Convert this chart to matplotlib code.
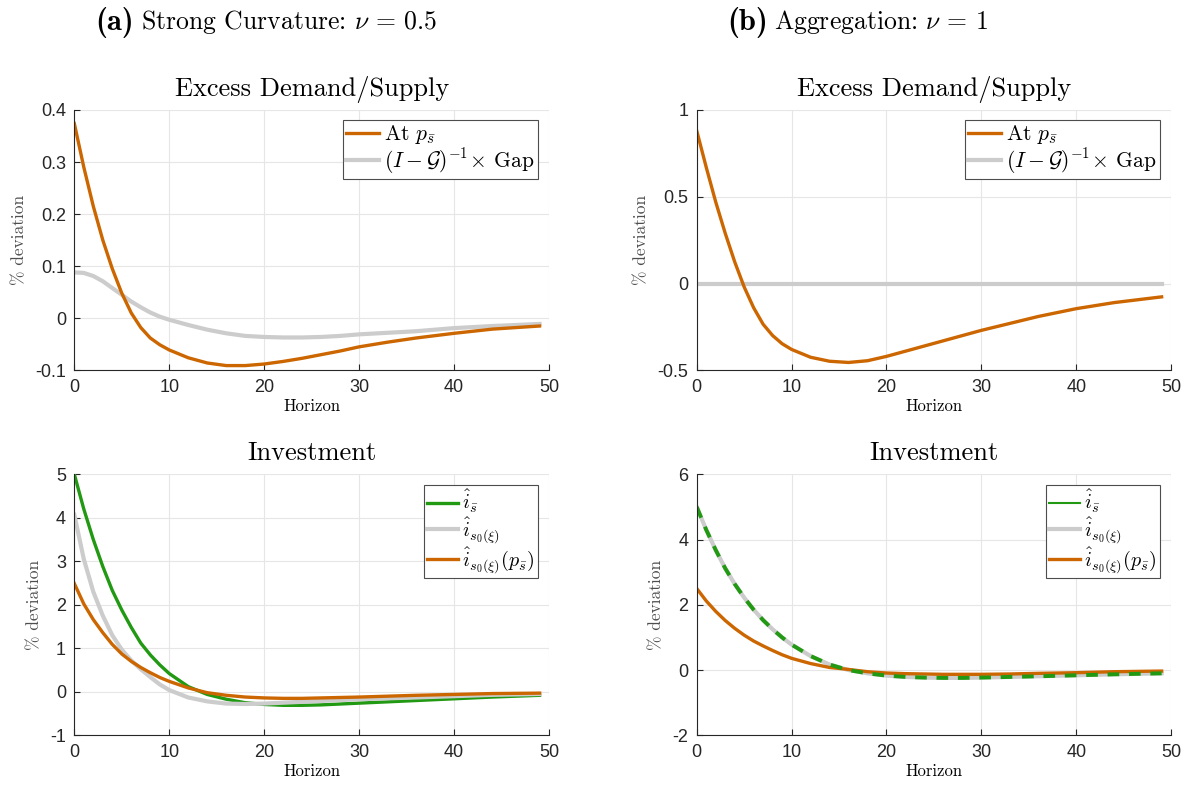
import numpy as np
import matplotlib
matplotlib.use("Agg")
import matplotlib.pyplot as plt
from matplotlib.lines import Line2D
from matplotlib.ticker import FuncFormatter

plt.rcParams['mathtext.fontset'] = 'cm'
plt.rcParams['axes.unicode_minus'] = False
plt.rcParams['font.family'] = ['Liberation Sans', 'DejaVu Sans']

# horizon grid used for the read-off values
horizon = [0, 1, 2, 3, 4, 5, 6, 7, 8, 9, 10, 12, 14, 16, 18, 20, 22, 24, 26, 28,
           30, 33, 36, 40, 44, 49]

# (a) nu = 0.5, excess demand/supply
ed_a_at_p = [0.374, 0.29, 0.215, 0.15, 0.095, 0.048, 0.01, -0.018, -0.038, -0.051,
             -0.061, -0.076, -0.086, -0.091, -0.091, -0.088, -0.083, -0.077, -0.070, -0.063,
             -0.055, -0.046, -0.038, -0.029, -0.021, -0.015]
ed_a_gap = [0.088, 0.087, 0.081, 0.071, 0.058, 0.045, 0.032, 0.021, 0.011, 0.003,
            -0.003, -0.013, -0.022, -0.029, -0.034, -0.036, -0.037, -0.037, -0.036, -0.034,
            -0.031, -0.028, -0.025, -0.019, -0.015, -0.011]

# (b) nu = 1, excess demand/supply
ed_b_at_p = [0.88, 0.67, 0.47, 0.29, 0.125, -0.02, -0.14, -0.235, -0.30, -0.347,
             -0.38, -0.425, -0.448, -0.455, -0.445, -0.42, -0.39, -0.36, -0.33, -0.30,
             -0.27, -0.23, -0.19, -0.145, -0.11, -0.077]
ed_b_gap = [0.0] * len(horizon)

# (a) investment
inv_a_sbar = [5.0, 4.2, 3.5, 2.88, 2.33, 1.88, 1.48, 1.12, 0.85, 0.62,
              0.42, 0.12, -0.06, -0.17, -0.25, -0.29, -0.31, -0.31, -0.30, -0.28,
              -0.26, -0.23, -0.20, -0.16, -0.12, -0.08]
inv_a_s0 = [4.07, 3.05, 2.3, 1.75, 1.3, 0.97, 0.72, 0.52, 0.34, 0.17,
            0.04, -0.13, -0.22, -0.27, -0.28, -0.27, -0.25, -0.23, -0.21, -0.19,
            -0.17, -0.15, -0.13, -0.10, -0.07, -0.05]
inv_a_s0_p = [2.49, 2.02, 1.66, 1.36, 1.09, 0.87, 0.70, 0.56, 0.44, 0.33,
              0.24, 0.09, -0.02, -0.08, -0.12, -0.14, -0.15, -0.15, -0.14, -0.13,
              -0.12, -0.10, -0.08, -0.06, -0.04, -0.03]

# (b) investment
inv_b_sbar = [5.0, 4.3, 3.68, 3.12, 2.64, 2.22, 1.85, 1.53, 1.25, 1.0,
              0.78, 0.43, 0.17, 0.0, -0.1, -0.17, -0.21, -0.23, -0.24, -0.24,
              -0.23, -0.21, -0.19, -0.16, -0.13, -0.10]
inv_b_s0 = list(inv_b_sbar)
inv_b_s0_p = [2.5, 2.12, 1.8, 1.52, 1.28, 1.07, 0.89, 0.74, 0.6, 0.47,
              0.36, 0.2, 0.08, 0.02, -0.05, -0.09, -0.11, -0.12, -0.13, -0.13,
              -0.13, -0.12, -0.10, -0.08, -0.05, -0.03]

orange = (0.8, 0.4, 0.0)
gray = (0.8, 0.8, 0.8)
green = (0.13, 0.6, 0.07)
lw = 2.4

fig = plt.figure(figsize=(11.91, 7.9), dpi=100)
axes = [fig.add_axes([0.0624, 0.5313, 0.3986, 0.3295]),
        fig.add_axes([0.585, 0.5313, 0.3983, 0.3295]),
        fig.add_axes([0.0624, 0.0692, 0.3986, 0.3304]),
        fig.add_axes([0.585, 0.0692, 0.3983, 0.3304])]

serif = 'cmr10'
fmt = FuncFormatter(lambda v, p: '%g' % round(v, 6))


def style(ax, title, ylim, yticks):
    ax.set_xlim(0, 50)
    ax.set_ylim(*ylim)
    ax.set_xticks([0, 10, 20, 30, 40, 50])
    ax.set_yticks(yticks)
    ax.yaxis.set_major_formatter(fmt)
    ax.grid(True, color=(0.9, 0.9, 0.9), linewidth=0.8)
    ax.set_axisbelow(True)
    for s in ['top', 'right']:
        ax.spines[s].set_visible(False)
    for s in ['left', 'bottom']:
        ax.spines[s].set_color((0.15, 0.15, 0.15))
        ax.spines[s].set_linewidth(0.8)
    ax.tick_params(direction='in', length=4, width=0.8, labelsize=13,
                   colors=(0.15, 0.15, 0.15), pad=6)
    ax.set_title(title, fontfamily=serif, fontsize=19, pad=10)
    ax.set_xlabel('Horizon', fontfamily=serif, fontsize=12, labelpad=2)
    ax.set_ylabel('% deviation', fontfamily=serif, fontsize=12.5, labelpad=6,
                  color=(0.3, 0.3, 0.3))


def legend(ax, handles, labels, top, size):
    leg = ax.legend(handles, labels, loc='upper right', bbox_to_anchor=(0.976, top),
                    fancybox=False, framealpha=1, edgecolor=(0.3, 0.3, 0.3),
                    prop={'family': serif, 'size': size}, handlelength=1.55,
                    handletextpad=0.2, borderpad=0.15, labelspacing=0.0,
                    borderaxespad=0)
    leg.get_frame().set_linewidth(0.8)


lab_ed = [r'At $p_{\bar{s}}$', r'$(I-\mathcal{G})^{-1}\!\times\!$ Gap']
lab_inv = [r'$\hat{i}_{\bar{s}}$', r'$\hat{i}_{s_0(\xi)}$', r'$\hat{i}_{s_0(\xi)}(p_{\bar{s}})$']

# top left
ax = axes[0]
h1, = ax.plot(horizon, ed_a_gap, color=gray, lw=lw + 0.6)
h0, = ax.plot(horizon, ed_a_at_p, color=orange, lw=lw)
style(ax, 'Excess Demand/Supply', (-0.1, 0.4), [-0.1, 0, 0.1, 0.2, 0.3, 0.4])
legend(ax, [h0, h1], lab_ed, 0.962, 15.5)

# top right
ax = axes[1]
h1, = ax.plot(horizon, ed_b_gap, color=gray, lw=lw + 0.6)
h0, = ax.plot(horizon, ed_b_at_p, color=orange, lw=lw)
style(ax, 'Excess Demand/Supply', (-0.5, 1), [-0.5, 0, 0.5, 1])
legend(ax, [h0, h1], lab_ed, 0.962, 15.5)

# bottom left
ax = axes[2]
g, = ax.plot(horizon, inv_a_sbar, color=green, lw=lw)
s, = ax.plot(horizon, inv_a_s0, color=gray, lw=lw + 0.6)
o, = ax.plot(horizon, inv_a_s0_p, color=orange, lw=lw)
style(ax, 'Investment', (-1, 5), [-1, 0, 1, 2, 3, 4, 5])
legend(ax, [g, s, o], lab_inv, 0.958, 14.5)

# bottom right
ax = axes[3]
s, = ax.plot(horizon, inv_b_s0, color=gray, lw=lw + 0.6)
o, = ax.plot(horizon, inv_b_s0_p, color=orange, lw=lw)
ax.plot(horizon, inv_b_sbar, color=green, lw=lw + 0.4, ls=(0, (3, 2.5)))
g = Line2D([], [], color=green, lw=1.5)
style(ax, 'Investment', (-2, 6), [-2, 0, 2, 4, 6])
legend(ax, [g, s, o], lab_inv, 0.958, 14.5)

# panel headings
fig.text(95 / 1191, 0.972, '(a)', fontfamily='cmb10', fontsize=22, ha='left', va='center')
fig.text(141 / 1191, 0.972, r'Strong Curvature: $\nu\,=\,0.5$', fontfamily=serif,
         fontsize=18.5, ha='left', va='center')
fig.text(727 / 1191, 0.972, '(b)', fontfamily='cmb10', fontsize=22, ha='left', va='center')
fig.text(774 / 1191, 0.972, r'Aggregation: $\nu\,=\,1$', fontfamily=serif,
         fontsize=18.5, ha='left', va='center')

fig.savefig('out.png', dpi=100)
